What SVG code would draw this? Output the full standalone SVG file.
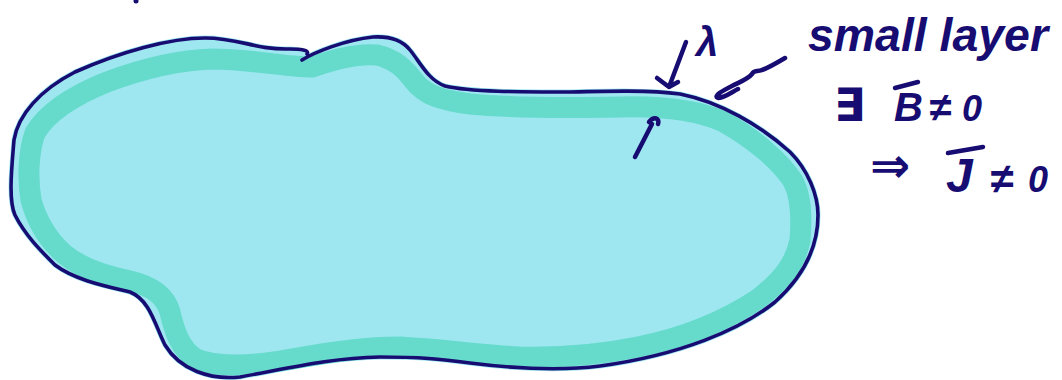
<svg xmlns="http://www.w3.org/2000/svg" width="1062" height="380" viewBox="0 0 1062 380">
<style>
.ink{fill:none;stroke:#170c72;stroke-linecap:round;stroke-linejoin:round}
.hw{fill:#170c72;font-family:"Liberation Sans","DejaVu Sans",sans-serif;font-style:italic;font-weight:bold}
</style>
<rect width="1062" height="380" fill="#ffffff"/>
<g id="blob">
<path id="fill" d="M302,60 C315,52 345,40 373,37 C390,36 402,40 410,50 C420,62 428,80 445,86 C470,92 520,92 570,92 C610,91 650,90 680,94 C720,102 760,125 790,152 C808,170 818,195 818,215 C818,245 805,275 775,302 C740,330 680,355 600,366 C560,371 510,368 470,363 C440,359 420,357 380,357 C330,358 290,368 240,377 C210,380 180,370 165,345 C155,325 150,300 130,292 C105,286 75,280 55,265 C40,250 25,235 15,215 C8,200 12,165 14,140 C18,115 40,90 75,72 C120,52 170,38 205,38 C240,38 255,50 290,49 C300,49 306,52 302,60 Z" fill="#9ee7f1" stroke="#9ee7f1" stroke-width="5"/>
<path id="layer" d="M312,67 C330,61 355,53 377,55 C395,59 405,69 414,81 C425,95 440,100 470,104 C510,108 560,108 620,107 C660,106 695,109 724,122 C754,139 780,161 793,181 C801,196 802,215 800,240 C796,262 783,280 758,299 C728,319 688,337 638,347 C598,355 560,358 520,357 C480,355 450,350 400,347 C360,347 320,354 280,361 C250,366 215,367 196,359 C180,349 174,330 170,312 C165,295 152,286 130,281 C105,276 82,269 64,254 C47,239 37,222 31,200 C27,175 29,150 35,133 C47,113 72,96 107,82 C142,69 177,60 212,59 C252,59 282,67 312,67" fill="none" stroke="#66dbcb" stroke-width="21" stroke-linejoin="round" stroke-linecap="round"/>
<path id="outline" class="ink" stroke-width="3.6" d="M302,60 C315,52 345,40 373,37 C390,36 402,40 410,50 C420,62 428,80 445,86 C470,92 520,92 570,92 C610,91 650,90 680,94 C720,102 760,125 790,152 C808,170 818,195 818,215 C818,245 805,275 775,302 C740,330 680,355 600,366 C560,371 510,368 470,363 C440,359 420,357 380,357 C330,358 290,368 240,377 C210,380 180,370 165,345 C155,325 150,300 130,292 C105,286 75,280 55,265 C40,250 25,235 15,215 C8,200 12,165 14,140 C18,115 40,90 75,72 C120,52 170,38 205,38 C240,38 255,50 290,49 C300,49 310,50 307,54"/>
</g>
<g id="connectors">
<path class="ink" stroke-width="4.5" d="M686,42 L669,87 M657,78 L669,87 L678,82"/>
<path class="ink" stroke-width="4.5" d="M785,58 C775,64 768,68 762,70 C757,72 754,70 752,74 C748,79 740,82 732,86 C722,91 713,96 718,98 C724,98 732,92 738,89"/>
<path class="ink" stroke-width="4.5" d="M635,157 L652,124 M649,122 C654,116 660,118 658,124"/>
<circle cx="136" cy="1" r="2.5" fill="#170c72"/>
</g>
<g id="labels">
<text class="hw" x="696" y="56" font-size="40">λ</text>
<text class="hw" x="808" y="51" font-size="46" textLength="240" lengthAdjust="spacingAndGlyphs">small layer</text>
<text class="hw" x="834" y="121" font-size="46">∃</text>
<text class="hw" x="894" y="121" font-size="40">B</text>
<path class="ink" stroke-width="4.5" d="M895,88 L918,82"/>
<text class="hw" x="929" y="121" font-size="40">≠</text>
<text class="hw" x="962" y="121" font-size="36">0</text>
<text class="hw" x="870" y="182" font-size="48">⇒</text>
<text class="hw" x="946" y="192" font-size="48">J</text>
<path class="ink" stroke-width="4.5" d="M948,153 L983,147"/>
<text class="hw" x="990" y="193" font-size="42">≠</text>
<text class="hw" x="1028" y="192" font-size="36">0</text>
</g>
</svg>
